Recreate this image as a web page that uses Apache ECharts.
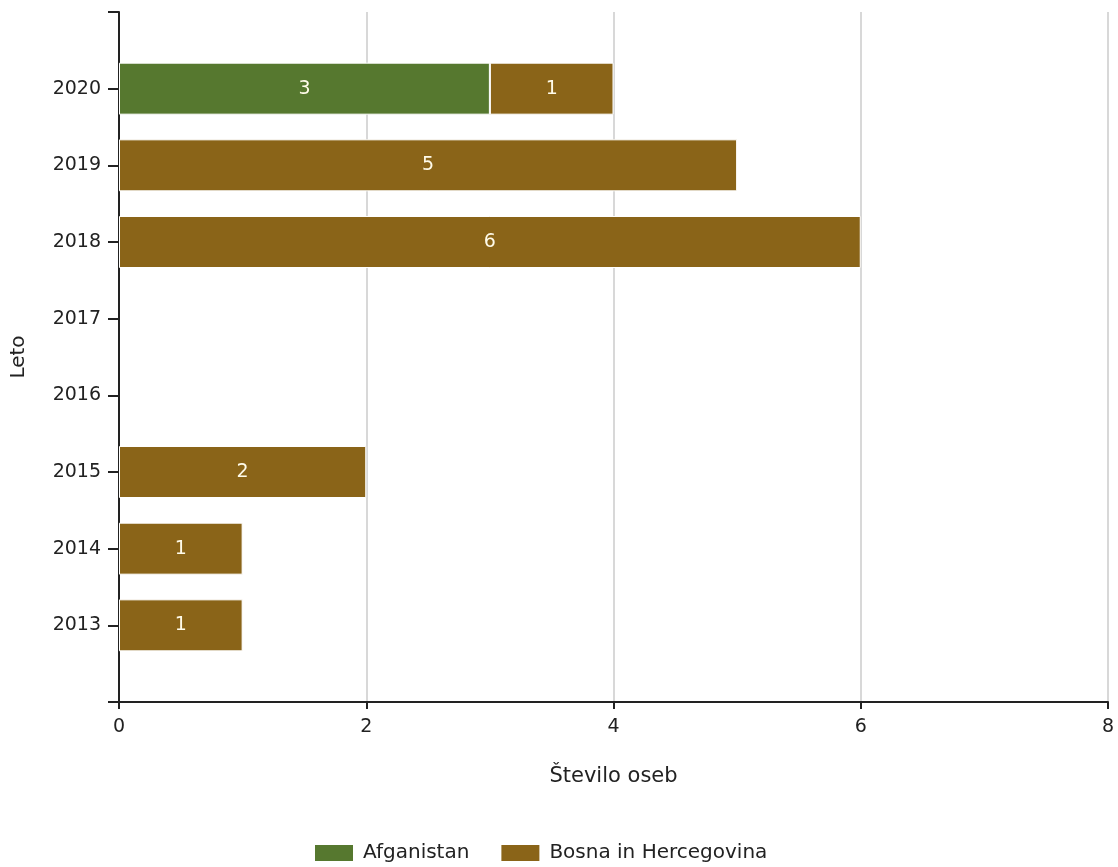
<!DOCTYPE html>
<html>
<head>
<meta charset="utf-8">
<script src="https://cdn.jsdelivr.net/npm/echarts@6/dist/echarts.min.js"></script>
<style>html,body{margin:0;padding:0;background:#fff}#c{width:1118px;height:867px}</style>
</head>
<body>
<div id="c"></div>
<script>
const years = ['2013', '2014', '2015', '2016', '2017', '2018', '2019', '2020'];
const afganistan = [null, null, null, null, null, null, null, 3];
const bosna = [1, 1, 2, null, null, 6, 5, 1];
const xTicks = [0, 2, 4, 6, 8];
const seriesNames = ['Afganistan', 'Bosna in Hercegovina'];
const yName = 'Leto';
const xName = 'Število oseb';

// Pad the category axis with empty slots at both ends (axis range 2012..2021)
const cats = [''].concat(years, ['']);
const pad = arr => [null].concat(arr, [null]);

const FONT = 'DejaVu Sans';
const chart = echarts.init(document.getElementById('c'), null, {renderer: 'canvas'});
const labelStyle = {show: true, position: 'inside', color: '#fffbea', fontFamily: FONT, fontSize: 19};
chart.setOption({
  animation: false,
  backgroundColor: '#fff',
  grid: {left: 119, right: 10, top: 12, bottom: 165, containLabel: false},
  legend: {
    top: 838, left: 308,
    icon: 'rect',
    itemWidth: 40, itemHeight: 18, itemGap: 30,
    textStyle: {fontFamily: FONT, fontSize: 20, color: '#222', padding: [0, 0, 0, 4]},
    data: seriesNames
  },
  xAxis: {
    type: 'value', min: xTicks[0], max: xTicks[xTicks.length - 1], interval: 2,
    name: xName, nameLocation: 'middle', nameGap: 64,
    nameTextStyle: {fontFamily: FONT, fontSize: 21, color: '#222'},
    axisLine: {show: true, lineStyle: {color: '#222', width: 2}},
    axisTick: {show: true, length: 7, lineStyle: {color: '#222', width: 2}},
    axisLabel: {fontFamily: FONT, fontSize: 19, color: '#222', margin: 16},
    splitLine: {show: true, lineStyle: {color: '#d8d8d8', width: 2}}
  },
  yAxis: {
    type: 'category', data: cats, boundaryGap: false,
    name: yName, nameLocation: 'middle', nameGap: 90, nameRotate: 90,
    nameTextStyle: {fontFamily: FONT, fontSize: 20, color: '#222'},
    axisLine: {show: true, lineStyle: {color: '#222', width: 2}},
    axisTick: {show: true, length: 11, interval: 0, lineStyle: {color: '#222', width: 2}},
    axisLabel: {fontFamily: FONT, fontSize: 19, color: '#222', margin: 18, interval: 0},
    splitLine: {show: false}
  },
  series: [
    {name: seriesNames[0], type: 'bar', stack: 'a', barWidth: 52, data: pad(afganistan),
     itemStyle: {color: '#56782f', borderColor: '#ffffff', borderWidth: 1}, label: labelStyle},
    {name: seriesNames[1], type: 'bar', stack: 'a', barWidth: 52, data: pad(bosna),
     itemStyle: {color: '#8a6418', borderColor: '#ffffff', borderWidth: 1}, label: labelStyle}
  ]
});
</script>
</body>
</html>
